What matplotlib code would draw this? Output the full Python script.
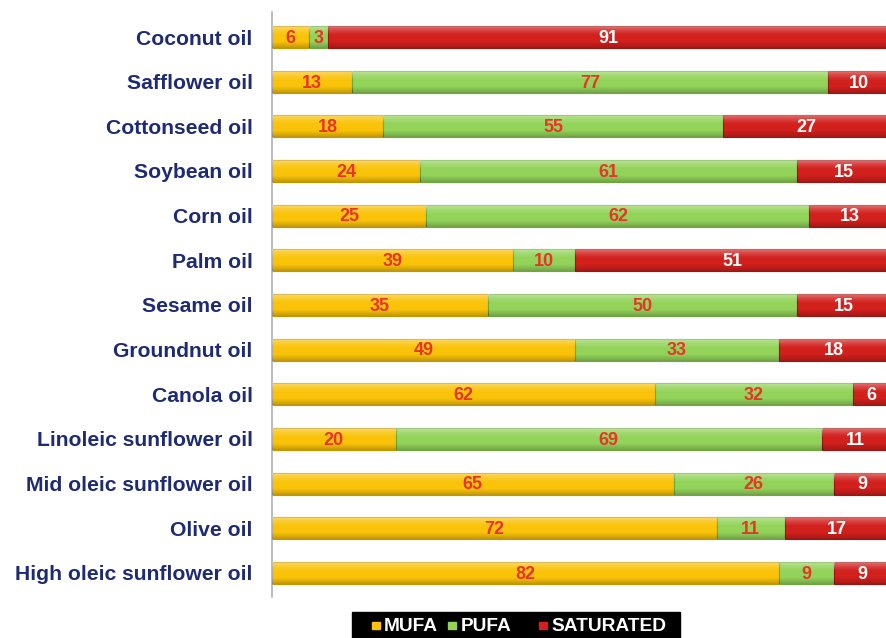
import matplotlib
matplotlib.use("Agg")
import matplotlib.pyplot as plt
from matplotlib.patches import Rectangle
import numpy as np

plt.rcParams['font.family'] = ['Liberation Sans', 'DejaVu Sans']

oils = ["Coconut oil", "Safflower oil", "Cottonseed oil", "Soybean oil", "Corn oil",
        "Palm oil", "Sesame oil", "Groundnut oil", "Canola oil",
        "Linoleic sunflower oil", "Mid oleic sunflower oil", "Olive oil",
        "High oleic sunflower oil"]
mufa = [6, 13, 18, 24, 25, 39, 35, 49, 62, 20, 65, 72, 82]
pufa = [3, 77, 55, 61, 62, 10, 50, 33, 32, 69, 26, 11, 9]
saturated = [91, 10, 27, 15, 13, 51, 15, 18, 6, 11, 9, 17, 9]
series_names = ["MUFA", "PUFA", "SATURATED"]

colors = ["#FAC30A", "#93D35A", "#D2201D"]
edge_colors = ["#C89500", "#6FA83A", "#9E1512"]
label_colors = ["#E8342A", "#E8342A", "#FFFFFF"]

fig = plt.figure(figsize=(8.86, 6.38), dpi=100)
ax = fig.add_axes([272 / 886, 1 - 597 / 638, 1 - 272 / 886, (597 - 12) / 638])

# vertical shading overlay used on every bar segment (light top, darker bottom)
n = 64
t = np.linspace(0, 1, n)
shade = np.zeros((n, 2, 4))
top = np.clip(1 - t / 0.45, 0, 1)
bot = np.clip((t - 0.7) / 0.3, 0, 1)
shade[:, :, :3] = np.where((top > 0)[:, None, None], 1.0, 0.0)
shade[:, :, 3] = (0.38 * top ** 1.5 + 0.22 * bot)[:, None]

y = np.arange(len(oils))
h = 0.49
left = np.zeros(len(oils))
for vals, c, ec, lc in zip([mufa, pufa, saturated], colors, edge_colors, label_colors):
    vals = np.array(vals, dtype=float)
    bars = ax.barh(y, vals, left=left, height=h, color=c, edgecolor=ec,
                   linewidth=0.8, zorder=2)
    for p in bars.patches:
        x0, y0 = p.get_x(), p.get_y()
        im = ax.imshow(shade, extent=(x0, x0 + p.get_width(), y0 + p.get_height(), y0),
                       aspect="auto", interpolation="bilinear", zorder=3)
        im.set_clip_path(p)
    for yi, l, v in zip(y, left, vals):
        ax.text(l + v / 2, yi + 0.03, f"{int(v)}", ha="center", va="center",
                color=lc, fontsize=13, fontweight="bold", zorder=4)
    left += vals

ax.set_xlim(0, 99.4)
ax.set_ylim(len(oils) - 0.46, -0.56)
ax.set_aspect("auto")
ax.set_yticks(y)
ax.set_yticklabels(oils, fontsize=15.2, fontweight="bold", color="#1E2B74")
ax.tick_params(axis="y", length=0, pad=14)
ax.set_xticks([])
for s in ["top", "right", "bottom"]:
    ax.spines[s].set_visible(False)
ax.spines["left"].set_color("#B0B0B0")
ax.spines["left"].set_linewidth(1.2)

# legend box at the bottom
lax = fig.add_axes([352 / 886, 0, (680 - 352) / 886, (638 - 612) / 638])
lax.set_xlim(0, 1)
lax.set_ylim(0, 1)
lax.axis("off")
lax.add_patch(Rectangle((0, 0), 1, 1, color="black", transform=lax.transAxes, clip_on=False))
positions = [0.06, 0.293, 0.57]
for xp, name, c in zip(positions, series_names, colors):
    lax.add_patch(Rectangle((xp, 0.33), 0.024, 0.3, color=c))
    lax.text(xp + 0.038, 0.45, name, color="white", fontsize=13.8, fontweight="bold",
             ha="left", va="center")

fig.savefig("out.png", dpi=100, facecolor="white")
